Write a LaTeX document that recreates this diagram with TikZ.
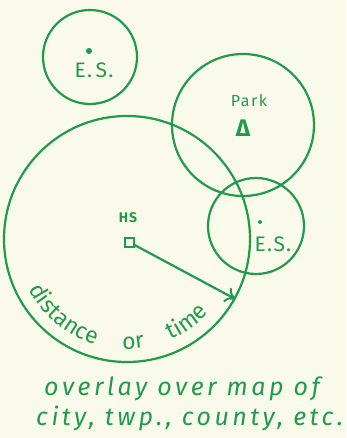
\documentclass[tikz,border=0pt]{standalone}
\usepackage{fontspec}
\setmainfont{Fira Sans}
\usetikzlibrary{arrows.meta, decorations.text}
\definecolor{marker}{RGB}{34,154,78}
\definecolor{paper}{RGB}{250,250,234}

\begin{document}
\begin{tikzpicture}[x=1pt, y=1pt,
    zone/.style={draw=marker, line width=2.2pt, circle, inner sep=0pt},
    spot/.style={fill=marker, circle, inner sep=0pt, minimum size=5pt},
    hand/.style={text=marker, inner sep=0pt, font=\fontsize{21}{21}\selectfont\addfontfeature{LetterSpace=6}},
    note/.style={hand, anchor=west, font=\fontsize{25}{25}\selectfont\itshape\addfontfeature{LetterSpace=14}},
    arrow/.style={-{To[length=10pt, width=16pt, line width=2pt]}, draw=marker, line width=2.2pt}
]
    \fill[paper] (0,0) rectangle (346,-438);
    \useasboundingbox (0,0) rectangle (346,-438);

    \node[zone, minimum size=94pt] (esarea1) at (90,-57) {};
    \node[zone, minimum size=142pt] (parkarea) at (243,-125) {};
    \node[zone, minimum size=246pt] (hsarea) at (127,-239) {};
    \node[zone, minimum size=96pt] (esarea2) at (256,-226) {};

    \node[spot, minimum size=6pt] (es1) at (89,-51) {};
    \node[hand] (es1label) at (94,-70) {E.\,S.};
    \node[hand, font=\fontsize{16}{16}\selectfont\addfontfeature{LetterSpace=10}] (parklabel) at (249,-101) {Park};
    \node[hand, font=\fontsize{24}{24}\selectfont\bfseries] (park) at (243,-128) {Δ};
    \node[spot, minimum size=4pt] (es2) at (260,-222) {};
    \node[hand] (es2label) at (273,-244) {E.S.};
    \node[hand, font=\fontsize{14}{14}\selectfont\bfseries\addfontfeature{LetterSpace=8}] (hslabel) at (128,-218) {HS};
    \node[draw=marker, line width=2pt, minimum size=9pt, inner sep=0pt] (hs) at (129,-242) {};

    \coordinate (reach) at (hsarea.-29);
    \draw[arrow] (hs) -- (reach);

    \path[decorate, decoration={text along path, text align={fit to path stretching spaces},
        text={|\color{marker}\fontsize{23}{23}\selectfont\addfontfeature{LetterSpace=3}|distance or time}}]
        (127,-239) ++(207:110) arc[start angle=207, end angle=318, radius=110];

    \node[note] (note1) at (44,-389) {overlay over map of};
    \node[note] (note2) at (36,-418) {city, twp., county, etc.};
\end{tikzpicture}
\end{document}
